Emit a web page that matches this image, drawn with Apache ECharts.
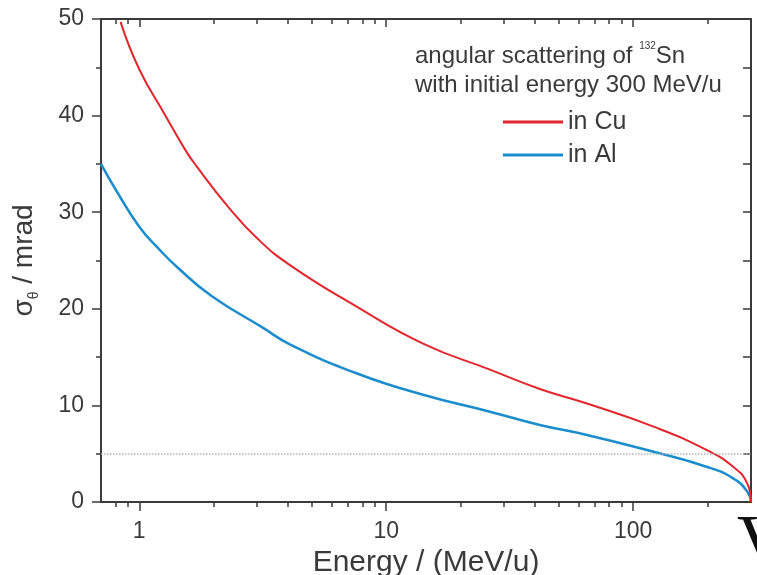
<!DOCTYPE html>
<html>
<head>
<meta charset="utf-8">
<script src="https://cdn.jsdelivr.net/npm/echarts@6/dist/echarts.min.js"></script>
<style>
  html, body { margin: 0; padding: 0; background: #fff; }
  #chart { width: 757px; height: 575px; }
</style>
</head>
<body>
<div id="chart"></div>
<script>
// Datos: dispersión angular de 132Sn (300 MeV/u)
const cuEnergy = [0.84, 1.0, 1.27, 1.54, 1.69, 2.3, 3.0, 4.09, 7.62, 14.1, 26.3, 41.9, 65, 121, 198, 254, 290, 300]
const cuSigma  = [49.7, 44.8, 40.1, 36.4, 34.9, 30.5, 27.3, 24.5, 20.2, 16.4, 13.7, 11.7, 10.2, 7.8, 5.4, 3.65, 1.9, 0]

const alEnergy = [0.7, 0.8, 1.0, 1.2, 1.44, 1.97, 3.14, 4.09, 7.62, 14.1, 26.3, 41.9, 65, 121, 198, 254, 290, 300]
const alSigma  = [35.0, 32.4, 28.5, 26.2, 24.2, 21.3, 18.1, 16.3, 13.3, 11.1, 9.35, 7.97, 6.94, 5.2, 3.65, 2.45, 1.07, 0]

const majorTicks = [1, 10, 100]
const minorTicks = [0.8, 0.9, 2, 3, 4, 5, 6, 7, 8, 9, 20, 30, 40, 50, 60, 70, 80, 90, 200]
const refLevel = 5

const FONT = "'Liberation Sans', Arial, sans-serif"
const INK = '#3a3a3a'
const RED = '#e2262d'
const BLUE = '#1b8ccc'

const pairs = (xs, ys) => xs.map((x, i) => [x, ys[i]])

// Eje x logarítmico: una instancia por rol (principal, menores, espejo arriba)
function xAxisDef(position, ticks, len, inside, showLine, showLabel) {
  return {
    type: 'log', logBase: 10, min: 0.7, max: 300, position,
    axisLine: { show: showLine, onZero: false, lineStyle: { color: INK, width: 2 } },
    axisTick: { show: true, inside, length: len, customValues: ticks, lineStyle: { color: INK, width: 1.5 } },
    axisLabel: {
      show: showLabel, customValues: majorTicks, margin: 18,
      fontFamily: FONT, fontSize: 23, color: INK,
      formatter: v => String(Math.round(v)),
    },
    splitLine: { show: false },
  }
}

const chart = echarts.init(document.getElementById('chart'))

chart.setOption({
  animation: false,
  backgroundColor: '#fff',
  grid: { left: 101, right: 6, top: 19, bottom: 73, outerBoundsMode: 'none' },
  xAxis: [
    Object.assign(xAxisDef('bottom', majorTicks, 9, false, true, true), {
      name: 'Energy / (MeV/u)', nameLocation: 'middle', nameGap: 44,
      nameTextStyle: { fontFamily: FONT, fontSize: 30, color: INK },
    }),
    xAxisDef('bottom', minorTicks, 5, false, false, false),
    xAxisDef('top', majorTicks, 8, true, true, false),
    xAxisDef('top', minorTicks, 5, true, false, false),
  ],
  yAxis: [
    {
      type: 'value', min: 0, max: 50, interval: 10, position: 'left',
      name: '{s|σ}{sub|θ}{s| / mrad}', nameLocation: 'middle', nameGap: 60, nameRotate: 90,
      nameTextStyle: {
        color: INK,
        rich: {
          s: { fontFamily: FONT, fontSize: 28, color: INK, lineHeight: 34 },
          sub: { fontFamily: FONT, fontSize: 14, color: INK, lineHeight: 12, verticalAlign: 'bottom' },
        },
      },
      axisLine: { show: true, onZero: false, lineStyle: { color: INK, width: 2 } },
      axisTick: { show: true, length: 9, lineStyle: { color: INK, width: 1.5 } },
      minorTick: { show: true, splitNumber: 2, length: 5, lineStyle: { color: INK, width: 1.5 } },
      axisLabel: { margin: 17, fontFamily: FONT, fontSize: 23, color: INK },
      splitLine: { show: false },
    },
    {
      type: 'value', min: 0, max: 50, interval: 10, position: 'right',
      axisLine: { show: true, onZero: false, lineStyle: { color: INK, width: 2 } },
      axisTick: { show: true, inside: true, length: 8, lineStyle: { color: INK, width: 1.5 } },
      minorTick: { show: true, splitNumber: 2, length: 8, lineStyle: { color: INK, width: 1.5 } },
      axisLabel: { show: false },
      splitLine: { show: false },
    },
  ],
  legend: {
    data: ['in Cu', 'in Al'],
    orient: 'vertical', left: 503, top: 109, padding: 0,
    itemGap: 7, itemWidth: 60, itemHeight: 3, icon: 'rect',
    textStyle: { fontFamily: FONT, fontSize: 25, color: INK, lineHeight: 26 },
  },
  graphic: [
    {
      type: 'text', left: 415, top: 41,
      style: {
        text: '{t|angular scattering of }{sup|132}{t|Sn}',
        rich: {
          t: { fontFamily: FONT, fontSize: 24, fill: INK, lineHeight: 30 },
          sup: { fontFamily: FONT, fontSize: 10, fill: INK, lineHeight: 28, verticalAlign: 'top' },
        },
      },
    },
    {
      type: 'text', left: 415, top: 70,
      style: { text: 'with initial energy 300 MeV/u', fontFamily: FONT, fontSize: 24, fill: INK, lineHeight: 30 },
    },
    {
      type: 'text', left: 737, top: 509,
      style: {
        text: 'V', fontFamily: "'Liberation Serif', 'DejaVu Serif', serif", fontSize: 72,
        fill: '#111',
      },
    },
  ],
  series: [
    {
      name: 'in Al', type: 'line', xAxisIndex: 0, yAxisIndex: 0,
      data: pairs(alEnergy, alSigma),
      showSymbol: false, smooth: 0.5,
      lineStyle: { color: BLUE, width: 2.5 }, itemStyle: { color: BLUE },
      markLine: {
        silent: true, symbol: 'none', label: { show: false },
        lineStyle: { color: '#b5b5b5', type: 'dotted', width: 1.5 },
        data: [{ yAxis: refLevel }],
      },
    },
    {
      name: 'in Cu', type: 'line', xAxisIndex: 0, yAxisIndex: 0,
      data: pairs(cuEnergy, cuSigma),
      showSymbol: false, smooth: 0.5,
      lineStyle: { color: RED, width: 2 }, itemStyle: { color: RED },
    },
  ],
})
</script>
</body>
</html>
